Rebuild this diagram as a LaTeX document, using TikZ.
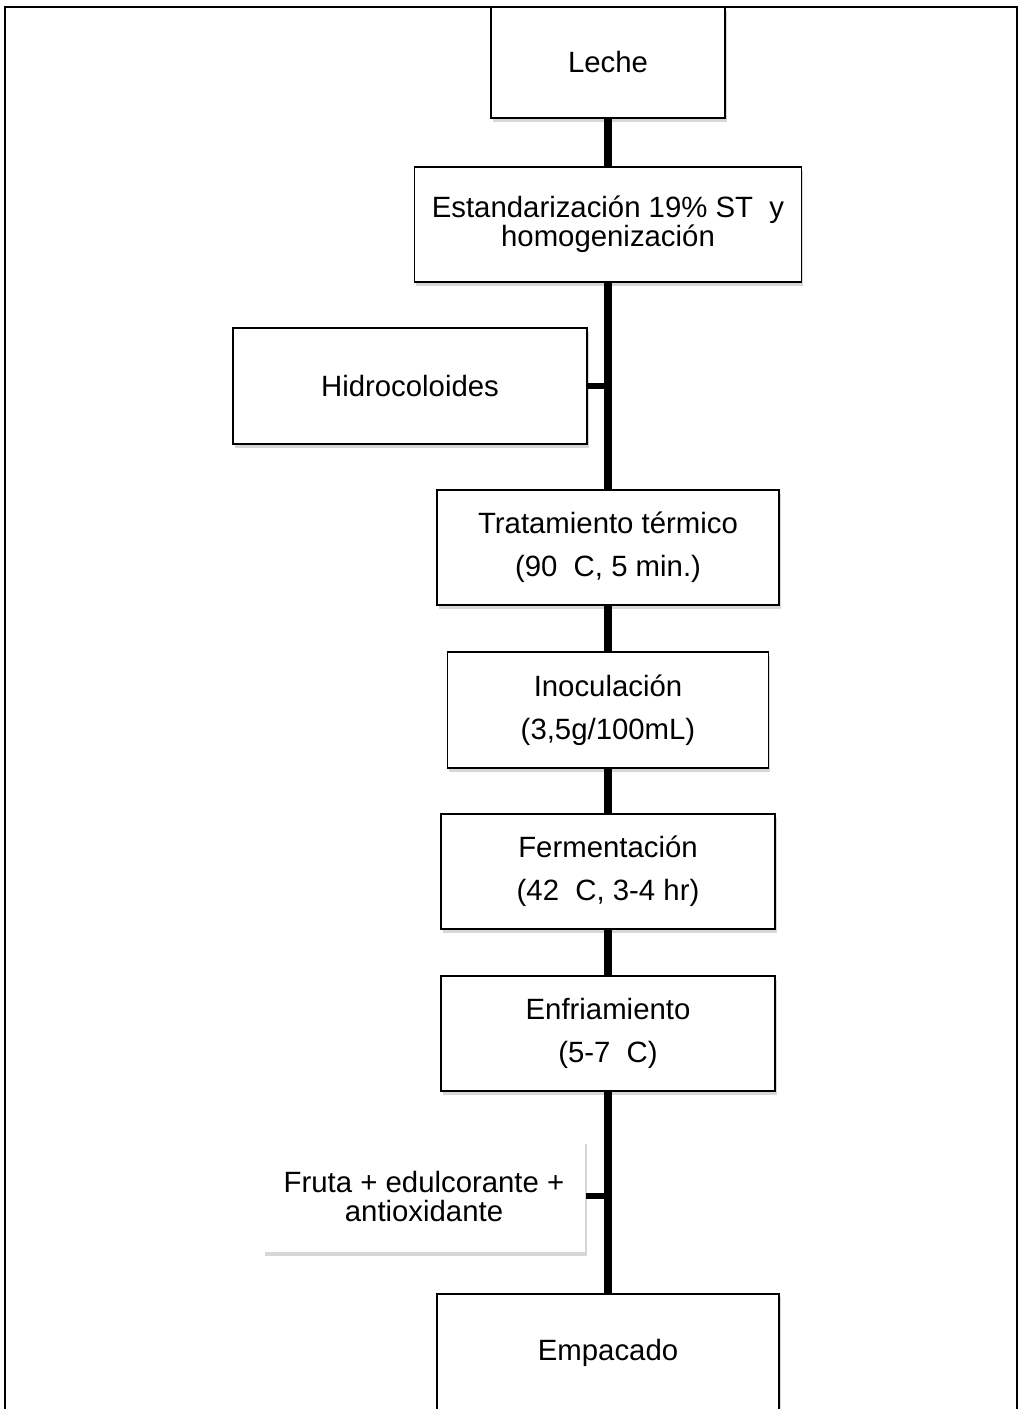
\documentclass[tikz,border=0pt]{standalone}
\usepackage{fontspec}
\setmainfont{Liberation Sans}
\usetikzlibrary{positioning,shadows}

\begin{document}
\begin{tikzpicture}[
  stepbox/.style={rectangle, draw=black, line width=1.1pt, fill=white,
                  inner sep=0pt, align=center,
                  font=\fontsize{16.7}{24.5}\selectfont,
                  drop shadow={shadow xshift=1pt, shadow yshift=-2pt,
                               fill=black!35, opacity=.45}},
  tight/.style={font=\fontsize{16.7}{16.5}\selectfont},
  sidebox/.style={stepbox, draw=none},
  flow/.style={line width=4.5pt},
  branch/.style={line width=3pt},
]
  \useasboundingbox (0,0) rectangle (20.42,-28.18);
  % Frame
  \draw[line width=1.1pt] (0.10,-0.14) rectangle (20.34,-29);

  % Main steps
  \node[stepbox, minimum width=4.68cm, minimum height=2.22cm] (leche) at (12.16,-1.25) {Leche};
  \node[stepbox, tight, minimum width=7.74cm, minimum height=2.30cm] (estand) at (12.16,-4.49)
    {Estandarización 19\% ST\ \ y\\homogenización};
  \node[stepbox, minimum width=6.84cm, minimum height=2.30cm] (trat) at (12.16,-10.95)
    {Tratamiento térmico\\(90\ \ C, 5 min.)};
  \node[stepbox, minimum width=6.42cm, minimum height=2.32cm] (inoc) at (12.16,-14.20)
    {Inoculación\\(3,5g/100mL)};
  \node[stepbox, minimum width=6.68cm, minimum height=2.30cm] (ferm) at (12.16,-17.43)
    {Fermentación\\(42\ \ C, 3-4 hr)};
  \node[stepbox, minimum width=6.68cm, minimum height=2.30cm] (enfr) at (12.16,-20.67)
    {Enfriamiento\\(5-7\ \ C)};
  \node[stepbox, minimum width=6.84cm, minimum height=2.60cm, text depth=10pt, anchor=north] (empac)
    at (12.16,-25.86) {Empacado};

  % Additions
  \node[stepbox, minimum width=7.08cm, minimum height=2.32cm] (hidro) at (8.20,-7.72) {Hidrocoloides};
  \node[sidebox, tight, minimum width=6.44cm, minimum height=2.24cm] (fruta) at (8.48,-23.92)
    {Fruta + edulcorante +\\antioxidante};

  % Connectors
  \foreach \a/\b in {leche/estand, estand/trat, trat/inoc, inoc/ferm, ferm/enfr, enfr/empac}
    \draw[flow] (\a.south) -- (\b.north);
  \draw[branch] (hidro.east) -- (hidro.east -| estand.south);
  \draw[branch] (fruta.east) -- (fruta.east -| enfr.south);
\end{tikzpicture}
\end{document}
